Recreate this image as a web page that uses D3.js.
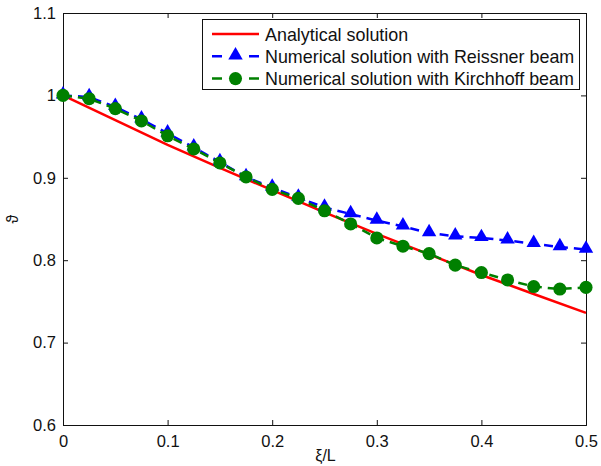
<!DOCTYPE html>
<html>
<head>
<meta charset="utf-8">
<script src="https://cdn.jsdelivr.net/npm/d3@7"></script>
<style>
  body { margin: 0; background: #fff; }
  svg { font-family: "Liberation Sans", Arial, sans-serif; }
</style>
</head>
<body>
<script>
// xi/L positions of the numerical samples
const xs = [0, 0.025, 0.05, 0.075, 0.1, 0.125, 0.15, 0.175, 0.2, 0.225, 0.25,
            0.275, 0.3, 0.325, 0.35, 0.375, 0.4, 0.425, 0.45, 0.475, 0.5];
const reissner = [1.0, 0.998, 0.986, 0.971, 0.954, 0.937, 0.919, 0.901, 0.888, 0.876, 0.864,
                  0.856, 0.848, 0.841, 0.833, 0.829, 0.827, 0.824, 0.820, 0.816, 0.813];
const kirchhoff = [1.0, 0.996, 0.984, 0.969, 0.951, 0.935, 0.918, 0.901, 0.886, 0.875, 0.860,
                   0.844, 0.827, 0.817, 0.808, 0.794, 0.785, 0.776, 0.768, 0.765, 0.767];
// analytical curve
const anaX = [0, 0.05, 0.1, 0.15, 0.2, 0.25, 0.3, 0.35, 0.4, 0.45, 0.5];
const anaY = [1.0, 0.970, 0.940, 0.912, 0.885, 0.858, 0.832, 0.807, 0.782, 0.759, 0.736];
const xTicks = [0, 0.1, 0.2, 0.3, 0.4, 0.5];
const yTicks = [0.6, 0.7, 0.8, 0.9, 1.0, 1.1];
const legendLabels = ["Analytical solution", "Numerical solution with Reissner beam", "Numerical solution with Kirchhoff beam"];

const W = 601, H = 466;
const margin = {left: 63, top: 13, right: 15, bottom: 41};
const width = W - margin.left - margin.right,
      height = H - margin.top - margin.bottom;

const svg = d3.select("body").append("svg")
  .attr("width", W).attr("height", H);
const g = svg.append("g")
  .attr("transform", "translate(" + margin.left + "," + margin.top + ")");

const x = d3.scaleLinear().domain([0, 0.5]).range([0, width]);
const y = d3.scaleLinear().domain([0.6, 1.1]).range([height, 0]);

// axes: ticks pointing inward on all four sides
const fmt = d => d === 0 ? "0" : (d === 1 ? "1" : d3.format(".1f")(d));
g.append("g").attr("transform", "translate(0," + height + ")")
  .call(d3.axisBottom(x).tickValues(xTicks).tickSize(-5).tickPadding(10).tickFormat(fmt));
g.append("g")
  .call(d3.axisLeft(y).tickValues(yTicks).tickSize(-5).tickPadding(7).tickFormat(fmt));
g.append("g")
  .call(d3.axisTop(x).tickValues(xTicks).tickSize(-5).tickFormat(""));
g.append("g").attr("transform", "translate(" + width + ",0)")
  .call(d3.axisRight(y).tickValues(yTicks).tickSize(-5).tickFormat(""));
g.selectAll(".tick text").attr("font-size", 16.5).attr("fill", "#111")
  .attr("font-family", "Liberation Sans, Arial, sans-serif");
g.selectAll(".domain, .tick line").attr("stroke", "#111");

// axis labels
svg.append("text")
  .attr("x", margin.left + width / 2 + 1).attr("y", 461)
  .attr("text-anchor", "middle").attr("font-size", 16).attr("fill", "#111")
  .text("ξ/L");
svg.append("text")
  .attr("transform", "translate(18,219) rotate(-90)")
  .attr("text-anchor", "middle").attr("font-size", 16).attr("fill", "#111")
  .text("ϑ");

const plot = g.append("g");
const line = d3.line().x(d => x(d[0])).y(d => y(d[1]));

plot.append("path")
  .datum(anaX.map((v, i) => [v, anaY[i]]))
  .attr("d", line).attr("fill", "none")
  .attr("stroke", "#ff0000").attr("stroke-width", 2.5);

const tri = d3.symbol().type(d3.symbolTriangle).size(90);
const circ = d3.symbol().type(d3.symbolCircle).size(135);

const rData = xs.map((v, i) => [v, reissner[i]]);
plot.append("path").datum(rData).attr("d", line).attr("fill", "none")
  .attr("stroke", "#0000ff").attr("stroke-width", 2.5).attr("stroke-dasharray", "9,6");
plot.selectAll(".tri").data(rData).enter().append("path")
  .attr("class", "tri")
  .attr("d", tri)
  .attr("transform", d => "translate(" + x(d[0]) + "," + (y(d[1]) - 1) + ")")
  .attr("fill", "#0000ff");

const kData = xs.map((v, i) => [v, kirchhoff[i]]);
plot.append("path").datum(kData).attr("d", line).attr("fill", "none")
  .attr("stroke", "#008000").attr("stroke-width", 2.5).attr("stroke-dasharray", "9,6");
plot.selectAll(".circ").data(kData).enter().append("path")
  .attr("class", "circ")
  .attr("d", circ)
  .attr("transform", d => "translate(" + x(d[0]) + "," + y(d[1]) + ")")
  .attr("fill", "#008000");

// legend
const lg = svg.append("g");
lg.append("rect")
  .attr("x", 202.5).attr("y", 19.5).attr("width", 377).attr("height", 70)
  .attr("fill", "#fff").attr("stroke", "#111");
const colors = ["#ff0000", "#0000ff", "#008000"];
const rows = lg.selectAll(".row").data(legendLabels).enter().append("g")
  .attr("transform", (d, i) => "translate(0," + (34 + i * 22.3) + ")");
rows.append("line")
  .attr("x1", 212).attr("x2", 259).attr("y1", 0).attr("y2", 0)
  .attr("stroke", (d, i) => colors[i]).attr("stroke-width", 2.5)
  .attr("stroke-dasharray", (d, i) => i === 0 ? null : "10,27");
rows.filter((d, i) => i === 1).append("path")
  .attr("d", tri).attr("transform", "translate(235.5,-1)").attr("fill", "#0000ff");
rows.filter((d, i) => i === 2).append("path")
  .attr("d", circ).attr("transform", "translate(235.5,0)").attr("fill", "#008000");
rows.append("text")
  .attr("x", 265).attr("y", 6.5)
  .attr("font-size", 17.9).attr("fill", "#111")
  .text(d => d);
</script>
</body>
</html>
